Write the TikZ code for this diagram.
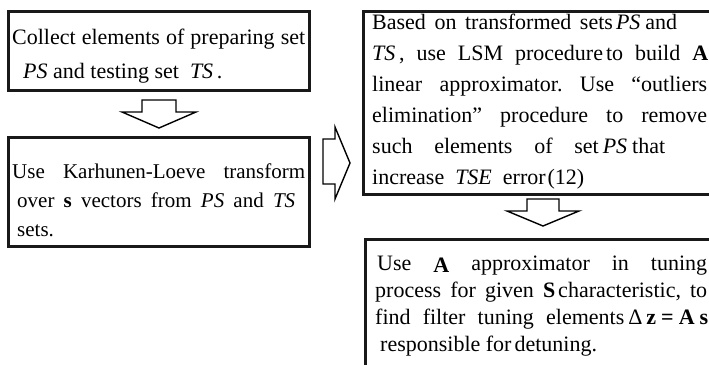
\documentclass[tikz,border=0pt]{standalone}
\usepackage{fontspec}
\setmainfont{Liberation Serif}
\frenchspacing
\begin{document}
\begin{tikzpicture}[x=1pt,y=-1pt,
  box/.style={draw=black!90, line width=2.6pt, inner sep=0pt, anchor=north west},
  txt/.style={anchor=base west, inner sep=0pt, align=left},
  barrow/.style={draw=black, line width=1.4pt, fill=white, line join=miter}]
\clip (0,0) rectangle (709,364);
\fill[white] (0,0) rectangle (709,364);
% boxes
\node[box, minimum width=301pt, minimum height=79pt]  (b1) at (7,10) {};
\node[box, minimum width=301pt, minimum height=109pt] (b2) at (7,136) {};
\node[box, minimum width=360pt, minimum height=183pt] (b3) at (362,10) {};
\node[box, minimum width=360pt, minimum height=140pt] (b4) at (364,238) {};
% texts
\node[txt, font=\frenchspacing\fontsize{22}{34}\selectfont] (t1) at (12,78) {%
\makebox[293pt][s]{Collect elements of preparing set}\\
\hspace*{11pt}\textit{PS} and testing set \ \textit{TS}\,.};
\node[txt, font=\frenchspacing\fontsize{21}{29}\selectfont] (t2) at (12,236) {%
\makebox[293pt][s]{Use Karhunen-Loeve transform}\\
\hspace*{5pt}\makebox[278pt][s]{over \textbf{s} vectors from \textit{PS} and \textit{TS}}\\
\hspace*{5pt}sets.};
\node[txt, font=\frenchspacing\fontsize{22}{31}\selectfont] (t3) at (372,184) {%
\makebox[305pt][s]{Based on transformed sets\hspace{3pt}\textit{PS}\hspace{5pt}and}\\
\makebox[336pt][s]{\textit{TS}\,, use LSM procedure\hspace{3pt}to build \textbf{A}}\\
\makebox[335pt][s]{linear approximator. Use “outliers}\\
\makebox[335pt][s]{elimination” procedure to remove}\\
\makebox[293pt][s]{such elements of set\hspace{4pt}\textit{PS}\hspace{5pt}that}\\
increase \ \textit{TSE} \ error\hspace{2pt}(12)};
\node[txt, font=\frenchspacing\fontsize{22}{27}\selectfont] (t4) at (377,351) {%
\makebox[330pt][s]{Use \raisebox{-2pt}{\textbf{A}} approximator in tuning}\\
\hspace*{-2pt}\makebox[332pt][s]{process for given \textbf{S}\hspace{3pt}characteristic, to}\\
\hspace*{-2pt}\makebox[333pt][s]{find filter tuning elements\hspace{4pt}Δ\hspace{4pt}\textbf{z}\hspace{5pt}\textbf{=}\hspace{5pt}\textbf{A}\hspace{5pt}\textbf{s}}\\
\hspace*{3pt}responsible for\hspace{3pt}detuning.};
% block arrows
\draw[barrow] (142,100) -- (176,100) -- (176,112) -- (196,112) -- (159,128) -- (122,112) -- (142,112) -- cycle;
\draw[barrow] (323,139) -- (335,139) -- (335,127) -- (350,163) -- (335,199) -- (335,184) -- (323,184) -- cycle;
\draw[barrow] (527,199) -- (559,199) -- (559,211) -- (579,211) -- (543,226) -- (507,211) -- (527,211) -- cycle;
\end{tikzpicture}
\end{document}
